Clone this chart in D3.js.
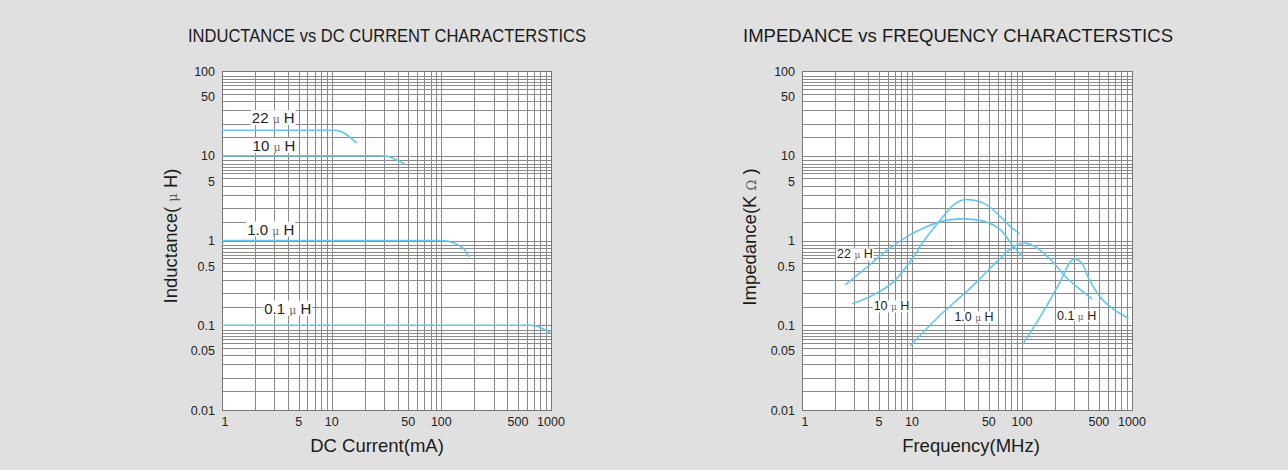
<!DOCTYPE html>
<html><head><meta charset="utf-8">
<script src="https://cdn.jsdelivr.net/npm/d3@7/dist/d3.min.js"></script>
<style>
html,body{margin:0;padding:0;background:#e0e0e0;}
svg{display:block;font-family:"Liberation Sans",Arial,Helvetica,sans-serif;}
</style>
</head><body>
<svg id="chart" width="1288" height="470"></svg>
<script>
// ---------- data ----------
const yTickValues = [100, 50, 10, 5, 1, 0.5, 0.1, 0.05, 0.01];
const xTickValues = [1, 5, 10, 50, 100, 500, 1000];
const decades = [0.01, 0.1, 1, 10, 100];
const yGridMantissas = [8.8, 8.1, 7.4, 6.8, 6.2, 5.4, 4.4, 3.45, 2.4, 1.66];
const xGridMantissas = [2, 3, 4, 5, 6, 7, 8, 9];

const seriesNames = ["22", "10", "1.0", "0.1"];

// Inductance vs DC current (mA, µH)
const ind22Current = [1, 10.5, 12, 13.7, 15.3, 16.9];
const ind22Value   = [20, 20, 19.4, 17.7, 15.8, 14.1];
const ind10Current = [1, 28, 33, 36.3, 41, 46.6];
const ind10Value   = [10, 10, 9.8, 9.3, 8.7, 8.0];
const ind1Current  = [1, 97, 112, 128, 158, 180];
const ind1Value    = [1, 1, 0.985, 0.94, 0.81, 0.64];
const ind01Current = [1, 640, 720, 820, 920, 1000];
const ind01Value   = [0.1, 0.1, 0.099, 0.092, 0.086, 0.08];

// Impedance vs frequency (MHz, kΩ)
const imp22Freq  = [2.47, 3.63, 5.52, 9.01, 13.7, 18.1, 27.5, 39, 63.5, 83.9, 103];
const imp22Value = [0.299, 0.45, 0.709, 1.11, 1.46, 1.67, 1.80, 1.75, 1.34, 0.848, 0.629];
const imp10Freq  = [2.85, 4.48, 6.8, 9.65, 12.7, 18.1, 23.9, 31.6, 44.8, 63.5, 75.5, 95.1];
const imp10Value = [0.179, 0.228, 0.327, 0.564, 0.972, 1.75, 2.64, 3.05, 2.76, 1.92, 1.53, 1.2];
const imp1Freq   = [9.65, 18.1, 25.7, 33.9, 46.4, 65.8, 83.9, 107, 152, 201, 248, 327, 433];
const imp1Value  = [0.057, 0.132, 0.199, 0.274, 0.411, 0.646, 0.848, 0.93, 0.741, 0.516, 0.376, 0.274, 0.205];
const imp01Freq  = [100, 163, 231, 275, 301, 351, 403, 497, 658, 931];
const imp01Value = [0.0574, 0.159, 0.359, 0.564, 0.603, 0.54, 0.359, 0.228, 0.159, 0.121];

// label anchors in data units (left edge x, vertical centre y)
const indLabelX = [1.87, 1.9, 1.7, 2.43];
const indLabelY = [28.1, 13.2, 1.36, 0.159];
const impLabelX = [2.08, 4.48, 24.3, 208];
const impLabelY = [0.695, 0.169, 0.126, 0.132];

// ---------- drawing ----------
const svg = d3.select("#chart");
svg.append("rect").attr("width", 1288).attr("height", 470).attr("fill", "#e0e0e0");

const zip = (xs, ys) => xs.map((x, i) => ({x, y: ys[i]}));
const gridColor = "#8a8a8a";
const lineColor = "#62c6ee";
const crisp = v => Math.round(v) + 0.5;

function panel(cfg) {
  const x = d3.scaleLog().domain([1, 1000]).range([cfg.x0, cfg.x1]);
  const y = d3.scaleLog().domain([0.01, 100]).range([410, 71]);
  const g = svg.append("g");

  g.append("rect").attr("x", cfg.x0).attr("y", 71)
    .attr("width", cfg.x1 - cfg.x0).attr("height", 410 - 71).attr("fill", "#fff");

  // horizontal grid
  const hVals = [];
  decades.slice(0, 4).forEach(d => yGridMantissas.forEach(m => hVals.push(d * m)));
  decades.forEach(d => hVals.push(d));
  g.append("g").selectAll("line").data(hVals).join("line")
    .attr("x1", cfg.x0).attr("x2", cfg.x1)
    .attr("y1", d => crisp(y(d))).attr("y2", d => crisp(y(d)))
    .attr("stroke", gridColor).attr("stroke-width", 1);

  // vertical grid
  const vVals = [];
  [1, 10, 100].forEach(d => xGridMantissas.forEach(m => vVals.push(d * m)));
  [1, 10, 100, 1000].forEach(d => vVals.push(d));
  g.append("g").selectAll("line").data(vVals).join("line")
    .attr("y1", 71).attr("y2", 410)
    .attr("x1", d => crisp(x(d))).attr("x2", d => crisp(x(d)))
    .attr("stroke", gridColor).attr("stroke-width", 1);

  // frame
  g.append("rect").attr("x", crisp(cfg.x0)).attr("y", crisp(71))
    .attr("width", Math.round(cfg.x1) - Math.round(cfg.x0)).attr("height", 410 - 71)
    .attr("fill", "none").attr("stroke", "#777");

  // curves
  const line = d3.line().x(d => x(d.x)).y(d => y(d.y)).curve(d3.curveMonotoneX);
  g.append("g").selectAll("path").data(cfg.series).join("path")
    .attr("d", d => line(d)).attr("fill", "none")
    .attr("stroke", lineColor).attr("stroke-width", 1.6);

  // series labels with white backing
  seriesNames.forEach((name, i) => {
    const lg = g.append("g");
    const t = lg.append("text")
      .attr("x", x(cfg.labelX[i])).attr("y", y(cfg.labelY[i]))
      .attr("dy", "0.36em").attr("font-size", cfg.labelSize).attr("fill", "#222");
    t.append("tspan").text(name + " ");
    t.append("tspan").text("μ").attr("font-size", cfg.labelSize * 0.72).attr("fill", "#666")
      .attr("font-family", "'DejaVu Serif',serif");
    t.append("tspan").text(" H");
    const bb = t.node().getBBox();
    lg.insert("rect", "text").attr("x", bb.x - 1).attr("y", bb.y + 1)
      .attr("width", bb.width + 2).attr("height", bb.height - 2).attr("fill", "#fff");
  });

  // y tick labels
  g.append("g").selectAll("text").data(yTickValues).join("text")
    .attr("x", cfg.x0 - 7).attr("y", d => y(d)).attr("dy", "0.36em")
    .attr("text-anchor", "end").attr("font-size", 12.5).attr("fill", "#222")
    .text(d => d);

  // x tick labels
  g.append("g").selectAll("text").data(xTickValues).join("text")
    .attr("x", d => x(d) + (d === 1 ? 3 : 0)).attr("y", 426)
    .attr("text-anchor", "middle").attr("font-size", 12.5).attr("fill", "#222")
    .text(d => d);

  // title
  svg.append("text").attr("x", cfg.titleX).attr("y", 42.3)
    .attr("font-size", 18.5).attr("fill", "#1a1a1a")
    .attr("textLength", cfg.titleW).attr("lengthAdjust", "spacingAndGlyphs")
    .text(cfg.title);

  // x axis title
  svg.append("text").attr("x", cfg.xTitleX).attr("y", 451.5)
    .attr("text-anchor", "middle").attr("font-size", 18.5).attr("fill", "#1a1a1a")
    .text(cfg.xTitle);

  // y axis title
  const yt = svg.append("text")
    .attr("transform", `translate(${cfg.yTitleX},${cfg.yTitleY}) rotate(-90)`)
    .attr("text-anchor", "middle").attr("dy", "0.35em")
    .attr("font-size", 18.5).attr("fill", "#1a1a1a");
  cfg.yTitleParts.forEach(p => {
    const s = yt.append("tspan").text(p.t);
    if (p.small) s.attr("font-size", 13).attr("fill", "#555").attr("font-family", "'DejaVu Serif',serif");
  });
}

panel({
  x0: 222, x1: 551,
  series: [zip(ind22Current, ind22Value), zip(ind10Current, ind10Value),
           zip(ind1Current, ind1Value), zip(ind01Current, ind01Value)],
  labelX: indLabelX, labelY: indLabelY, labelSize: 15,
  title: "INDUCTANCE vs DC CURRENT CHARACTERSTICS", titleX: 188, titleW: 398,
  xTitle: "DC Current(mA)", xTitleX: 377,
  yTitleX: 170.5, yTitleY: 236,
  yTitleParts: [{t: "Inductance( "}, {t: "μ", small: true}, {t: " H)"}]
});

panel({
  x0: 802, x1: 1132,
  series: [zip(imp22Freq, imp22Value), zip(imp10Freq, imp10Value),
           zip(imp1Freq, imp1Value), zip(imp01Freq, imp01Value)],
  labelX: impLabelX, labelY: impLabelY, labelSize: 12.5,
  title: "IMPEDANCE vs FREQUENCY CHARACTERSTICS", titleX: 743, titleW: 430,
  xTitle: "Frequency(MHz)", xTitleX: 971,
  yTitleX: 750, yTitleY: 237,
  yTitleParts: [{t: "Impedance(K "}, {t: "Ω", small: true}, {t: " )"}]
});
</script>
</body></html>
